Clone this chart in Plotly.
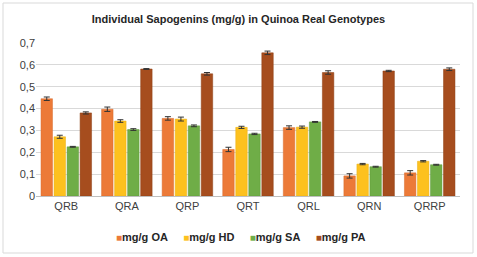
import plotly.graph_objects as go

categories = ["QRB", "QRA", "QRP", "QRT", "QRL", "QRN", "QRRP"]
series_names = ["mg/g OA", "mg/g HD", "mg/g SA", "mg/g PA"]
oa = [0.445, 0.397, 0.355, 0.213, 0.313, 0.092, 0.106]
hd = [0.271, 0.343, 0.352, 0.314, 0.315, 0.146, 0.159]
sa = [0.225, 0.304, 0.321, 0.284, 0.339, 0.134, 0.143]
pa = [0.380, 0.581, 0.559, 0.655, 0.565, 0.572, 0.580]
oa_err = [0.008, 0.010, 0.008, 0.010, 0.008, 0.010, 0.010]
hd_err = [0.007, 0.006, 0.009, 0.005, 0.005, 0.003, 0.003]
sa_err = [0.002, 0.004, 0.004, 0.003, 0.002, 0.002, 0.002]
pa_err = [0.005, 0.002, 0.006, 0.008, 0.008, 0.003, 0.006]
ytick_vals = [0, 0.1, 0.2, 0.3, 0.4, 0.5, 0.6, 0.7]
ytick_text = ["0", "0,1", "0,2", "0,3", "0,4", "0,5", "0,6", "0,7"]

colors = ["#EC7A38", "#FDC11E", "#6FAD47", "#A64D1E"]
line_colors = ["#D96A2A", "#E8AE10", "#5E9A3A", "#8E3E12"]

fig = go.Figure()
for name, vals, errs, c, lc in zip(series_names, [oa, hd, sa, pa],
                                   [oa_err, hd_err, sa_err, pa_err], colors, line_colors):
    fig.add_trace(go.Bar(
        x=categories, y=vals, name=name, showlegend=False,
        marker=dict(color=c, line=dict(color=lc, width=0.5)),
        error_y=dict(type="data", array=errs, visible=True,
                     color="#333333", thickness=1, width=3),
    ))

# compact Excel-style legend built from the series names and colours
legend_text = "&nbsp;&nbsp;&nbsp;&nbsp;&nbsp;".join(
    f'<span style="color:{c};font-size:10px">■</span><b>{n}</b>'
    for n, c in zip(series_names, colors)
)

fig.update_layout(
    width=477, height=257,
    margin=dict(l=36, r=17, t=43, b=61),
    paper_bgcolor="white", plot_bgcolor="white",
    font=dict(family="Liberation Sans, Arial, sans-serif", size=11, color="#404040"),
    title=dict(text="<b>Individual Sapogenins (mg/g) in Quinoa Real Genotypes</b>",
               x=0.5, xanchor="center", y=1 - 19 / 257, yanchor="middle",
               font=dict(size=11, color="#262626")),
    barmode="group", bargap=0.14, bargroupgap=0.12,
    showlegend=False,
    annotations=[dict(text=legend_text, xref="paper", yref="paper",
                      x=(241 - 36) / 424, y=(196 - 237) / 153,
                      xanchor="center", yanchor="middle", showarrow=False,
                      font=dict(size=11, color="#262626"))],
    xaxis=dict(showgrid=False, showline=True, linecolor="#BFBFBF", linewidth=1,
               ticks="", tickfont=dict(size=11, color="#404040")),
    yaxis=dict(range=[0, 0.7], tickvals=ytick_vals, ticktext=ytick_text,
               showgrid=True, gridcolor="#D9D9D9", gridwidth=1, zeroline=False,
               ticks="", tickfont=dict(size=11, color="#404040")),
    shapes=[dict(type="rect", xref="paper", yref="paper",
                 x0=(3 - 36) / 424, x1=(473 - 36) / 424,
                 y0=(196 - 253) / 153, y1=(196 - 3) / 153,
                 line=dict(color="#D9D9D9", width=1), fillcolor="rgba(0,0,0,0)",
                 layer="below")],
)

fig.write_html("out.html", config={"displayModeBar": False},
               post_script="document.body.style.margin='0px';")
